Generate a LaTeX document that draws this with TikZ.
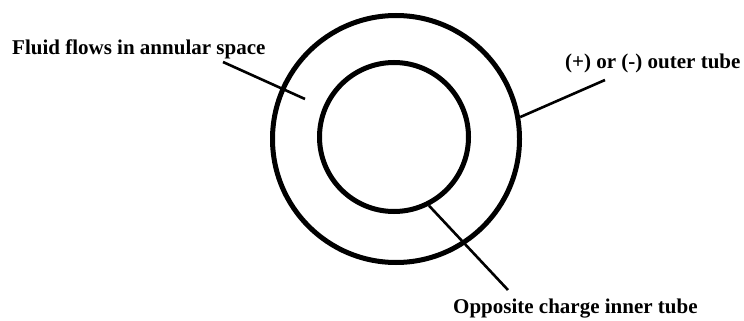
\documentclass[tikz,border=0pt]{standalone}
\usepackage{fontspec}
\setmainfont{Liberation Serif}
\usepackage{tikz}
\usetikzlibrary{calc,positioning}
\tikzset{
  tubo/.style={draw=black, line width=5pt, circle, inner sep=0pt},
  rotulo/.style={font=\fontsize{21}{24}\selectfont\bfseries, inner sep=0pt},
  guia/.style={draw=black, line width=2.6pt}
}

\begin{document}
\begin{tikzpicture}[x=1pt,y=-1pt]
  \useasboundingbox (0,0) rectangle (744,321);
  % Tubes (outer and inner)
  \node[tubo, minimum size=247pt] (externo) at (396,139) {};
  \node[tubo, minimum size=149pt] (interno) at (394,137) {};
  % Labels
  \node[rotulo, anchor=base west] (fluido) at (12,55)
    {Fluid flows in annular space};
  \node[rotulo, anchor=base west] (exterior) at (565,69)
    {(+) or (-) outer tube};
  \node[rotulo, anchor=base west] (interior) at (453,313)
    {Opposite charge inner tube};
  % Leader lines
  \coordinate (fluidoIni) at (223,62);
  \coordinate (fluidoFin) at (305,99);
  \coordinate (exteriorIni) at (605,80);
  \coordinate (interiorFin) at (508,290);
  \draw[guia] (fluidoIni) -- (fluidoFin);
  \draw[guia] (exteriorIni) -- (externo.10);
  \draw[guia] (interno.-63) -- (interiorFin);
\end{tikzpicture}
\end{document}
